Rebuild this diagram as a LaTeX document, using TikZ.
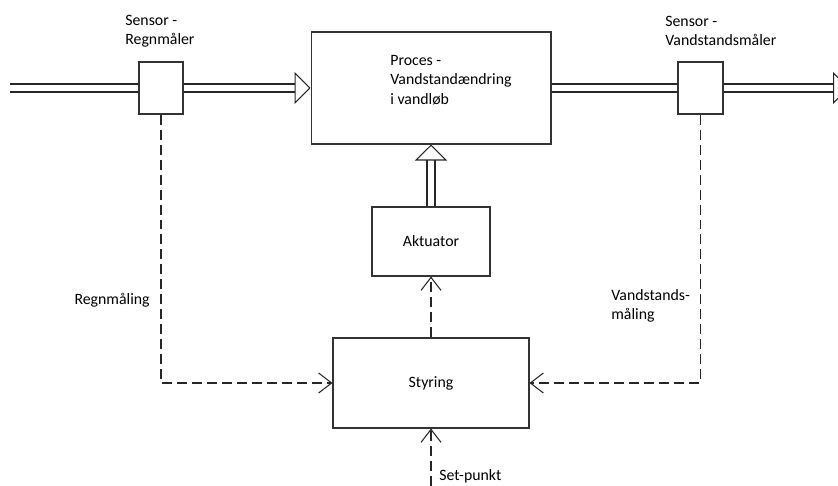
\documentclass[tikz,border=0pt]{standalone}
\usepackage{fontspec}
\setmainfont{Carlito}
\usepackage{tikz}
\usetikzlibrary{arrows.meta}

\begin{document}
\begin{tikzpicture}[x=0.02cm,y=-0.02cm,font=\fontsize{9}{11}\selectfont,
    box/.style={draw=black!80,line width=0.6pt,fill=white,inner sep=0pt},
    lbl/.style={inner sep=0pt,align=left},
    flow/.style={draw=black!85,line width=0.6pt,double=white,double distance=0.139cm},
    flowtip/.style={flow,-{Triangle[open,length=0.32cm,width=0.64cm]}},
    sig/.style={draw=black!85,line width=0.6pt,dash pattern=on 0.2cm off 0.1cm,
        -{Straight Barb[length=0.26cm,width=0.4cm]}}]
    \useasboundingbox (0,0) rectangle (838,486);

    % Blocks
    \node[box,minimum width=0.88cm,minimum height=1.04cm] (regn) at (161,88) {};
    \node[box,minimum width=0.9cm,minimum height=1.04cm] (vand) at (700.5,88) {};
    \node[box,minimum width=4.8cm,minimum height=2.24cm] (proc) at (431,88) {};
    \node[lbl] (proctxt) at (451,80) {Proces -\\Vandstandændring\\i vandløb};
    \node[box,minimum width=2.36cm,minimum height=1.38cm] (akt) at (431,241.5) {Aktuator};
    \node[box,minimum width=3.92cm,minimum height=1.8cm] (styr) at (431,383) {Styring};

    % Free ends
    \coordinate (ind) at (10,88);
    \coordinate (ud) at (849,88);
    \coordinate (setp) at (431,486);

    % Labels
    \node[lbl,anchor=west] (regnlbl) at (125,31) {Sensor -\\Regnmåler};
    \node[lbl,anchor=west] (vandlbl) at (665,31) {Sensor -\\Vandstandsmåler};
    \node[lbl,anchor=east] (regnmaal) at (150,300) {Regnmåling};
    \node[lbl,anchor=west] (vandmaal) at (611,306) {Vandstands-\\måling};
    \node[lbl,anchor=west] (setlbl) at (439,476) {Set-punkt};

    % Flow
    \draw[flow] (ind) -- (regn.west);
    \draw[flowtip] (regn.east) -- (proc.west);
    \draw[flow] (proc.east) -- (vand.west);
    \draw[flowtip] (vand.east) -- (ud);
    \draw[flowtip] (akt.north) -- (proc.south);

    % Signals
    \draw[sig] (regn.south) |- (styr.west);
    \draw[sig] (vand.south) |- (styr.east);
    \draw[sig] (styr.north) -- (akt.south);
    \draw[sig] (setp) -- (styr.south);
\end{tikzpicture}
\end{document}
